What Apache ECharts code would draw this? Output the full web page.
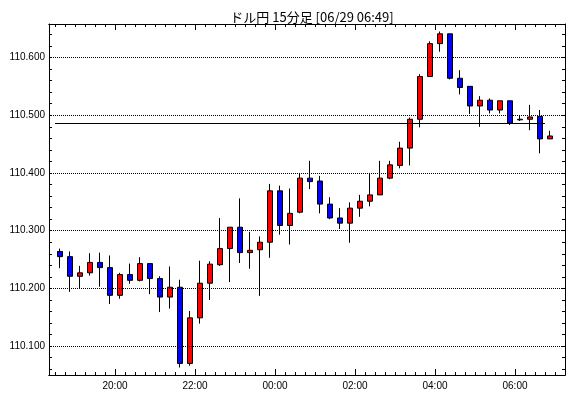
<!DOCTYPE html>
<html>
<head>
<meta charset="utf-8">
<script src="https://cdn.jsdelivr.net/npm/echarts@6/dist/echarts.min.js"></script>
<style>
html,body{margin:0;padding:0;background:#fff;}
#chart{width:570px;height:398px;}
</style>
</head>
<body>
<div id="chart"></div>
<script>
const titleText = 'ドル円 15分足 [06/29 06:49]';
const times = ['18:30','18:45','19:00','19:15','19:30','19:45','20:00','20:15','20:30','20:45',
  '21:00','21:15','21:30','21:45','22:00','22:15','22:30','22:45','23:00','23:15',
  '23:30','23:45','00:00','00:15','00:30','00:45','01:00','01:15','01:30','01:45',
  '02:00','02:15','02:30','02:45','03:00','03:15','03:30','03:45','04:00','04:15',
  '04:30','04:45','05:00','05:15','05:30','05:45','06:00','06:15','06:30','06:45'];
const opens = [110.264,110.255,110.221,110.227,110.245,110.236,110.188,110.224,110.214,110.243,
  110.217,110.185,110.202,110.070,110.149,110.209,110.241,110.269,110.306,110.262,
  110.267,110.280,110.369,110.309,110.332,110.391,110.386,110.346,110.322,110.313,
  110.339,110.351,110.362,110.391,110.413,110.443,110.493,110.567,110.624,110.641,
  110.564,110.550,110.516,110.526,110.509,110.525,110.493,110.493,110.498,110.459];
const closes = [110.255,110.221,110.227,110.245,110.236,110.188,110.224,110.214,110.243,110.217,
  110.185,110.202,110.070,110.149,110.209,110.242,110.269,110.306,110.262,110.266,
  110.280,110.369,110.309,110.330,110.391,110.385,110.346,110.322,110.313,110.339,
  110.351,110.362,110.391,110.414,110.443,110.493,110.567,110.624,110.641,110.564,
  110.548,110.516,110.526,110.509,110.525,110.486,110.492,110.497,110.459,110.464];
const lows = [110.235,110.194,110.200,110.222,110.203,110.173,110.182,110.208,110.212,110.190,
  110.159,110.165,110.063,110.066,110.139,110.180,110.239,110.211,110.244,110.234,
  110.187,110.253,110.293,110.276,110.330,110.372,110.330,110.320,110.303,110.279,
  110.324,110.342,110.362,110.389,110.408,110.413,110.479,110.567,110.610,110.562,
  110.536,110.502,110.480,110.503,110.503,110.483,110.490,110.474,110.434,110.459];
const highs = [110.269,110.264,110.239,110.261,110.262,110.257,110.227,110.243,110.254,110.243,
  110.221,110.238,110.215,110.161,110.248,110.247,110.322,110.306,110.356,110.298,
  110.290,110.381,110.378,110.373,110.400,110.421,110.395,110.358,110.339,110.349,
  110.362,110.400,110.421,110.421,110.454,110.496,110.571,110.628,110.645,110.641,
  110.578,110.550,110.533,110.529,110.525,110.525,110.500,110.518,110.509,110.473];
const yLabels = [110.1, 110.2, 110.3, 110.4, 110.5, 110.6];
const xLabels = ['20:00','22:00','00:00','02:00','04:00','06:00'];
const refLevel = 110.486;
const refFrom = '18:30';
const refTo = '06:30';

const candles = times.map((t, i) => [i, opens[i], closes[i], lows[i], highs[i]]);
// tick positions at candle boundaries (start time of each candle)
const minorX = times.map((t, i) => i - 0.5).concat([times.length - 0.5]);
const majorX = xLabels.map(l => times.indexOf(l) - 0.5);
const labelAt = v => { const k = majorX.findIndex(m => Math.abs(m - v) < 1e-6); return k >= 0 ? xLabels[k] : ''; };
const minorY = [];
for (let k = 3; k <= 32; k++) minorY.push(+(110 + k * 0.02).toFixed(2));

const XMIN = -1.1, XMAX = 50.5, YMIN = 110.05, YMAX = 110.658;
const black = '#000';
const font = '"Liberation Sans", Arial, sans-serif';

function xAx(pos, ticks, len, labels) {
  return {
    type: 'value', min: XMIN, max: XMAX, position: pos,
    axisLine: { show: true, onZero: false, lineStyle: { color: black, width: 1 } },
    axisTick: { show: true, inside: true, length: len, customValues: ticks, lineStyle: { color: black, width: 1 } },
    axisLabel: labels ? { show: true, customValues: majorX, formatter: labelAt, color: black, fontSize: 10, fontFamily: font, margin: 6 } : { show: false },
    splitLine: { show: false }
  };
}
function yAx(pos, labels) {
  return {
    type: 'value', min: YMIN, max: YMAX, position: pos,
    axisLine: { show: true, onZero: false, lineStyle: { color: black, width: 1 } },
    axisTick: { show: true, inside: true, length: 3, customValues: minorY, lineStyle: { color: black, width: 1 } },
    axisLabel: labels ? { show: true, customValues: yLabels, formatter: v => v.toFixed(3), color: black, fontSize: 10, fontFamily: font, margin: 4 } : { show: false },
    splitLine: { show: false }
  };
}

const chart = echarts.init(document.getElementById('chart'), null, { renderer: 'canvas' });
chart.setOption({
  animation: false,
  backgroundColor: '#fff',
  title: {
    text: titleText, left: 307, top: 6, textAlign: 'center',
    textStyle: { fontFamily: 'Noto Sans CJK JP', fontSize: 13, fontWeight: 'normal', color: black }
  },
  grid: { left: 49, right: 5, top: 24, bottom: 23, containLabel: false },
  xAxis: [
    xAx('bottom', minorX, 3, true),
    xAx('bottom', majorX, 6, false),
    xAx('top', minorX, 3, false),
    xAx('top', majorX, 6, false)
  ],
  yAxis: [yAx('left', true), yAx('right', false)],
  series: [{
    type: 'candlestick',
    xAxisIndex: 0, yAxisIndex: 0,
    data: candles,
    encode: { x: 0, y: [1, 2, 3, 4] },
    barWidth: 6,
    itemStyle: { color: '#ff0000', color0: '#0000ff', borderColor: black, borderColor0: black, borderWidth: 1 },
    markLine: {
      silent: true, symbol: 'none', animation: false,
      label: { show: false },
      data: yLabels.map(v => ({ yAxis: v, lineStyle: { type: [1, 1], color: black, width: 1 } })).concat([
        [{ coord: [times.indexOf(refFrom) - 0.5, refLevel], lineStyle: { type: 'solid', color: black, width: 1 } },
         { coord: [times.indexOf(refTo) + 0.5, refLevel] }]
      ])
    }
  }]
});
</script>
</body>
</html>
